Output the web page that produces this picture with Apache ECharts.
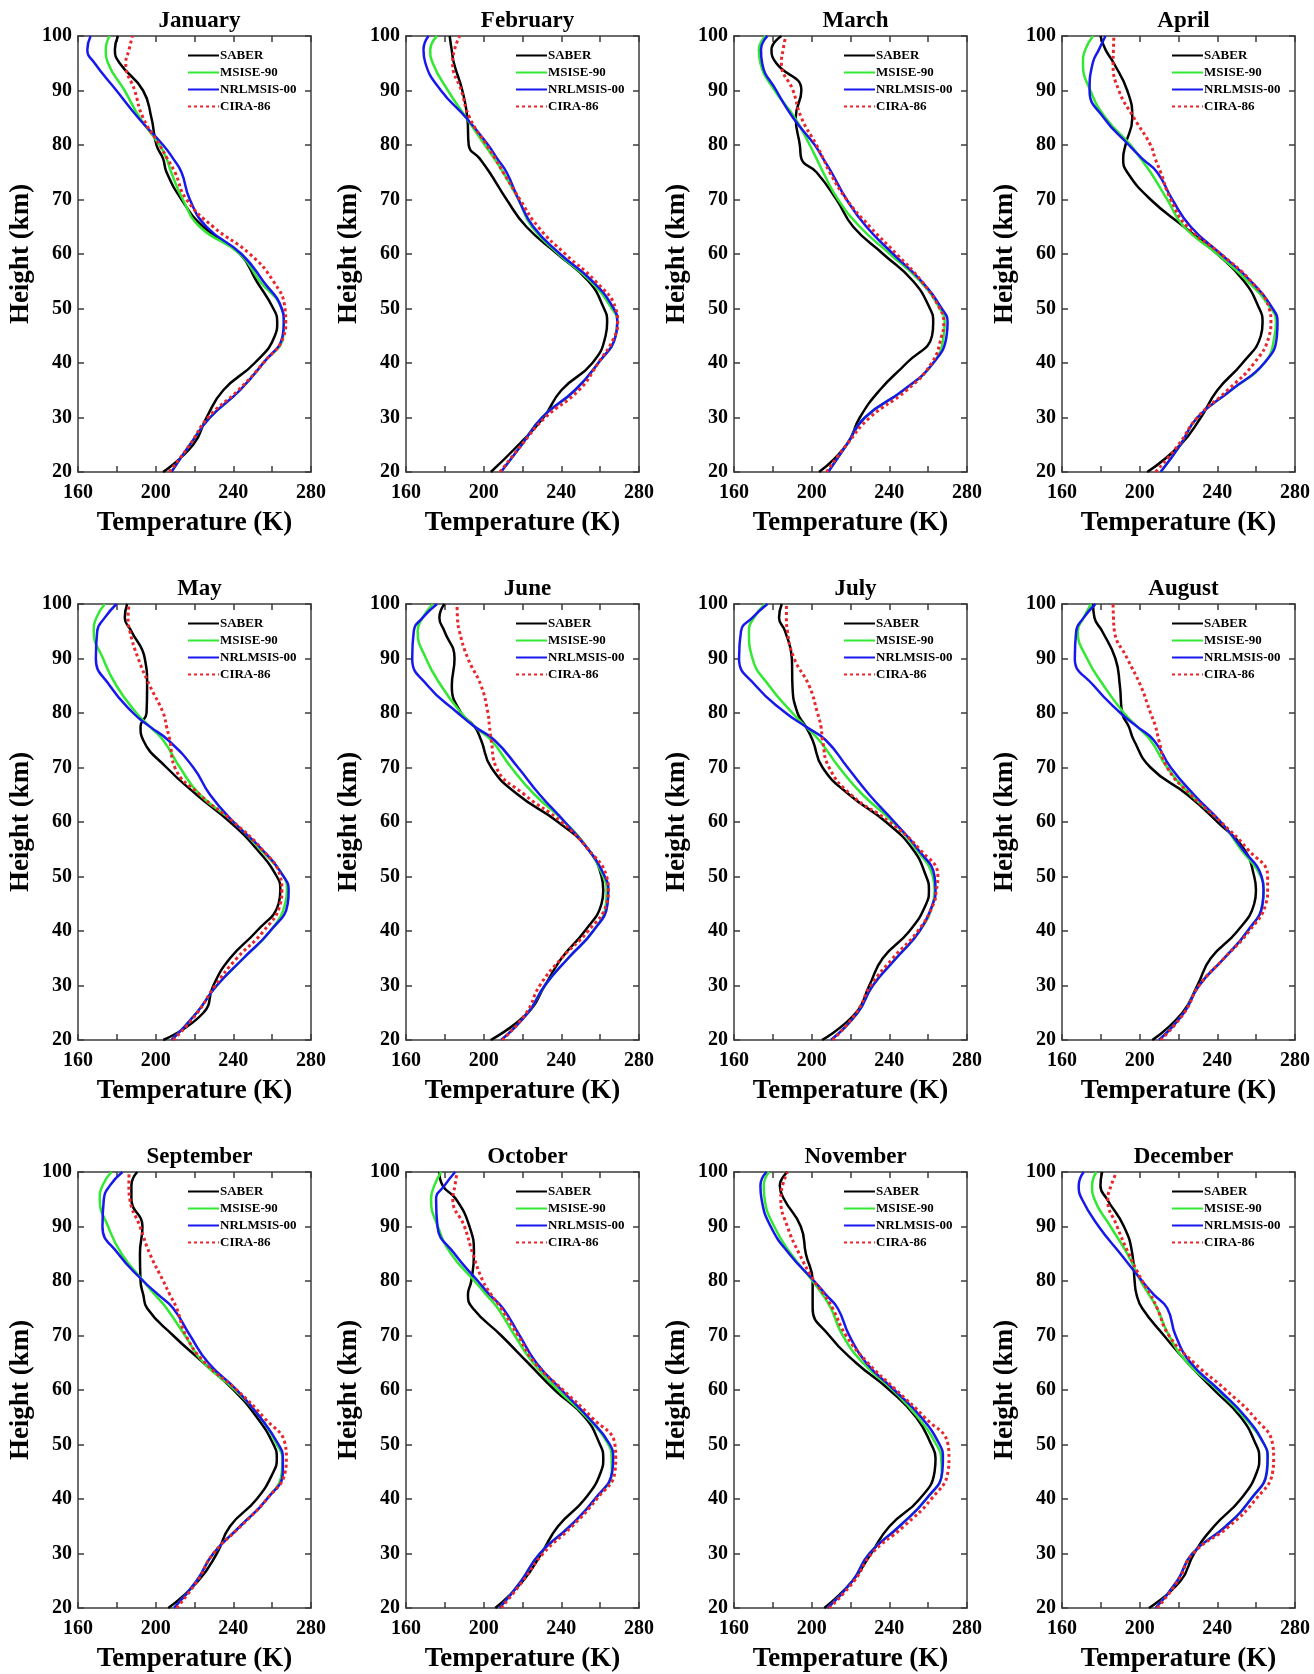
<!DOCTYPE html>
<html>
<head>
<meta charset="utf-8">
<script src="https://cdn.jsdelivr.net/npm/echarts@6/dist/echarts.min.js"></script>
<style>
  html, body { margin: 0; padding: 0; background: #fff; }
  #chart { width: 1314px; height: 1674px; }
</style>
</head>
<body>
<div id="chart"></div>
<script>
// monthly temperature profiles (K) at each height (km)
const MONTHS = ['January', 'February', 'March', 'April', 'May', 'June',
  'July', 'August', 'September', 'October', 'November', 'December'];
const HEIGHTS = [20, 25, 30, 35, 40, 45, 47.5, 50, 55, 60, 65, 70, 75, 77.5, 80, 85, 90, 95, 97.5, 100];

const saberT = [
  [203.8,219.3,226.2,234.8,251,261.4,262.6,260.6,252,243.4,224.5,213.3,205.6,203.8,200.4,197.8,193.5,181.5,179,180.6],
  [203.7,218,230.8,240,256,262.8,263.6,262,254,238,222,211.8,203,198,192.3,191.6,189,184.7,183.5,182.5],
  [203.8,218,224.8,235,248.9,262,262.6,260.9,252.3,236.8,221.4,212.8,202.5,194.7,193.9,191.8,194.7,181.8,179.3,184.4],
  [203.9,221,231.5,240,253,262.4,263.3,261.6,253.8,240,222.8,205.6,193.6,191.5,192.7,196.2,193.6,186.7,182.4,179.8],
  [203.9,224.6,229.7,238.3,252.1,263.3,264.2,262.4,252.1,238.3,221.1,205.6,193.6,192.2,195.3,195.6,194.4,187.5,184.1,185.3],
  [203.6,222.8,231.5,240.1,252.1,260.7,261.6,260.7,253.8,238.3,217.7,203.9,198.7,195.3,188.4,183.6,185,179.8,177.2,179.8],
  [205.3,222.8,229.7,236.6,250.4,259,260.4,259,252.1,238.3,219.4,205.6,200.5,197,192.7,190.1,189.8,186.3,183.2,184.6],
  [206.5,222,229.7,236.6,250.4,259,259.9,259,253.8,240.1,224.6,205.6,197,194.4,191,189.8,187.5,180.7,176.7,176],
  [206.5,222,231.5,238.3,252.1,260.7,262.4,260.7,252.1,240.1,224.6,209,195.6,193.6,192.2,191.9,193.2,187.5,187.5,190.5],
  [206,220.3,229.7,238.3,252.1,260.4,261.6,259.9,252.1,236.6,222.8,209,194.4,191.9,193.6,195,192.7,185.8,178.9,177.2],
  [206.5,221.1,230.6,240.1,255.6,263.3,263.8,261.6,253.8,240.1,222.8,209,200.5,200.5,200.5,197,194.4,185.8,183.6,187.5],
  [204.8,221.1,228,238.3,252.1,260.4,261.6,259.9,252.1,238.3,224.6,212.5,201.3,198.4,197.4,196.2,191.9,183.2,179.8,180.7]
];

const msiseT = [
  [208.1,217.6,228,243.4,255.4,265.7,266,264.9,253.7,243.4,222.7,214,208,205.6,202,191.8,184,175.5,174.3,176.3],
  [208.9,219.6,230,247,259,268,268.8,266,255,238.6,224.8,217.9,210,205.5,200.6,191,181.6,173.8,172.5,176],
  [208.5,218,227.4,247.2,262.6,268,268.5,266,255.8,240.3,224.8,213.6,205.9,202.5,199,191.3,181,173.6,172.8,176.3],
  [210.8,221,229.7,247,264.2,269.5,270.2,267.6,255.6,240,222.8,214.2,205.6,200.5,195.3,182.4,174.6,170.8,172,176],
  [208.2,221.1,231.5,245.2,259,266.7,267.6,265.9,253.8,240.1,222.8,212.5,203.9,197,190.1,179.8,172.9,168.1,169.5,173.8],
  [209,222.8,231.5,243.5,256.4,263,263.3,261.6,253.8,241.8,226.3,214.2,203.9,195.3,188.4,178.1,170.3,166,168.6,173.8],
  [209.9,223.7,231.5,243.5,255.6,262.4,263.3,262.4,253.8,241.8,226.3,214.2,203.9,197,190.1,178.1,169.5,167.7,170.3,176],
  [209.9,222.8,230.6,243.5,255.6,263.3,263.8,262.4,252.1,241.8,226.3,214.2,205.6,198.7,191.9,181.5,172.9,168.1,171.2,175],
  [209.4,221.1,229.7,243.5,257.3,265,265.3,262.4,253.8,240.9,224.6,215.1,205.6,199.6,193.6,182.4,175.5,171.2,172.6,177.2],
  [208.2,219.4,228.9,244.4,257.3,266,265.9,264.2,253,238.3,225.4,216,207.3,201.3,195.3,183.2,176.4,172.9,174.6,178.1],
  [208.2,221.1,229.7,245.2,259,267,266.7,264.2,254.7,241.8,226.3,216,209.9,205.6,200.5,189.3,180.7,175.8,175.3,178.1],
  [208.2,219.4,227.1,244.4,257.3,265.5,265.9,264.2,253.8,240.1,224.6,215.1,209,204.8,200.5,193.6,185,176.7,175.5,177.7]
];

const nrlmsisT = [
  [208.1,217.6,228,243.4,255.4,265.4,266,264.9,255.4,244.2,226.2,217.6,213.3,209,203.8,191,179.8,168.6,164.8,166.5],
  [208.9,219.6,230,247,259,268,268.8,267,256,239.4,225.6,218,211.8,207,202.3,191,178,170,169,171.6],
  [208.5,218,227.4,247.2,262.6,269.5,270,267,256.6,242,228.2,218,210.2,205.9,201.6,190.4,181.8,174.5,173.9,177.2],
  [210.8,221,229.7,247,264.2,270.7,271,268.5,257.3,241.8,226.3,216.8,209,201.3,194.4,181.5,174.2,175.8,179,182.4],
  [208.2,221.1,231.5,245.2,259,268,268.5,265.9,254.7,240.1,228,219.4,206.5,197,188.4,176.4,169.2,169.9,173.8,179.8],
  [209,222.8,231.5,243.5,256.4,263.8,264.2,262.4,253.8,241.8,228.9,217.7,205.6,195.3,186.7,171.2,163.2,164,168.6,176],
  [209.9,223.7,231.5,243.5,255.6,262.4,263.8,263.3,254.7,242.6,229.7,218.5,207.3,197,186.7,171.2,162.6,163.6,169.5,177.2],
  [209.9,222.8,230.6,243.5,255.6,263.3,263.8,262.8,253,241.8,228,216,207.3,198.7,190.1,176.4,166.6,167.3,171.2,177.2],
  [209.4,221.1,229.7,243.5,257.3,265.5,265.5,263.3,253.8,241.8,227.1,217.7,209,201.3,193.6,180.7,172.6,173.3,176.4,182.9],
  [208.2,219.4,228.9,244.4,257.3,266.2,266.7,265,253.8,240.1,227.1,218.5,209.9,203,197,185,176.2,175.5,179.8,185.3],
  [208.2,221.1,229.7,245.2,259,267.3,267.6,265.9,256.4,242.6,228,219.4,213.4,207.3,201.3,188.4,178.9,174.2,173.6,176.7],
  [208.2,219.4,227.1,244.4,257.3,265.5,265.9,264.2,254.7,240.9,226.3,218.5,214.2,207.3,201.3,190.1,178.9,170.3,168.6,171.2]
];

const ciraT = [
  [207,217.6,227,242.5,255.4,266,267,266.6,260.6,248.5,229.6,215.9,209.9,206,202,193.5,189.2,184.6,186.3,188],
  [208.4,219.6,231.7,249,259,267.6,269,268,257.6,242,228,218.7,210,206,201.5,192.8,188.5,184,185,187.6],
  [207.6,218,230,248.9,261.8,267,268,266,256.6,243.7,230,218,209.3,206,202.5,194.7,190.4,184.4,185.3,186.6],
  [208.2,220,229.7,245.2,259,266.7,267.6,266.7,257.3,241.8,224.6,216,210.8,208,205.6,197,189.3,186.3,186.5,186.7],
  [209,221.5,230.6,241.8,255.6,264.2,265,264.2,254.7,240.1,222.8,209.9,207.3,205.6,203.9,197,191,186.7,185.8,186.3],
  [209.5,222,228.9,240.1,253.8,263.3,264.2,263.3,253.8,240.1,221.1,206.5,203.9,203,202.2,198.7,191.9,187.5,186.5,186.3],
  [210.8,223,230.5,241.8,254.7,262.8,264.2,265,255.6,240.1,220.3,209,205.6,204.8,203,198.7,191,187.5,187,187],
  [210.8,223,230.6,243.5,256.4,265,265.9,265.9,255.6,241.8,226.3,214.2,209.9,208.2,205.6,200.5,193.6,187,186.5,186.3],
  [210.8,221.5,229.7,243.8,257.3,266.7,267.3,266.7,255.6,241.8,225.4,215.6,210.8,207.3,203.9,197,191.9,186.7,186.2,186.3],
  [209,220.3,230.6,245.6,258.2,267.6,268,267.6,255.6,240.9,226.3,217.7,209,203.9,199.6,194.4,190.1,184.1,185.2,186.3],
  [209,222,231,247.5,261.6,270.2,270.7,270.2,258.1,243.5,228.9,217.7,210.8,206.5,201.3,193.6,187.5,184.1,185,187.5],
  [209,219.8,227.5,246.1,259.9,268.5,269,268.5,259,244.4,228,215.1,209,205.6,201.3,194.4,188.4,183.6,185.3,188.1]
];

const MODELS = [
  { name: 'SABER', temps: saberT, color: '#000000', type: 'solid', width: 2.5 },
  { name: 'MSISE-90', temps: msiseT, color: '#33e833', type: 'solid', width: 2.5 },
  { name: 'NRLMSIS-00', temps: nrlmsisT, color: '#1818ee', type: 'solid', width: 2.5 },
  { name: 'CIRA-86', temps: ciraT, color: '#e8262b', type: [3, 3], width: 3 }
];

const FONT = '"Liberation Serif", "Times New Roman", serif';
const AXIS_COLOR = '#3c3c3c';
const COL_LEFT = [78, 406, 734, 1062];
const ROW_TOP = [36, 604, 1172];
const PW = 233, PH = 436;

const chart = echarts.init(document.getElementById('chart'));

const grid = [], xAxis = [], yAxis = [], series = [], legend = [], title = [];

MONTHS.forEach(function (month, m) {
  const left = COL_LEFT[m % 4];
  const top = ROW_TOP[Math.floor(m / 4)];
  grid.push({ left: left, top: top, width: PW, height: PH });

  const line = { show: true, onZero: false, lineStyle: { color: AXIS_COLOR, width: 1.5 } };
  const tick = { show: true, inside: true, length: 6, lineStyle: { color: AXIS_COLOR, width: 1.5 } };
  const lab = { color: '#000', fontFamily: FONT, fontWeight: 'bold', fontSize: 20 };
  const nameStyle = { color: '#000', fontFamily: FONT, fontWeight: 'bold', fontSize: 27 };

  // bottom + top temperature axes
  xAxis.push({
    gridIndex: m, type: 'value', min: 160, max: 280, interval: 20, position: 'bottom',
    axisLine: line, axisTick: tick, splitLine: { show: false },
    axisLabel: Object.assign({ margin: 11, formatter: function (v) { return v % 40 === 0 ? v : ''; } }, lab),
    name: 'Temperature (K)', nameLocation: 'middle', nameGap: 38, nameTextStyle: nameStyle
  });
  xAxis.push({
    gridIndex: m, type: 'value', min: 160, max: 280, interval: 20, position: 'top',
    axisLine: line, axisTick: tick, splitLine: { show: false }, axisLabel: { show: false }
  });
  // left + right height axes
  yAxis.push({
    gridIndex: m, type: 'value', min: 20, max: 100, interval: 10, position: 'left',
    axisLine: line, axisTick: tick, splitLine: { show: false },
    axisLabel: Object.assign({ margin: 6 }, lab),
    name: 'Height (km)', nameLocation: 'middle', nameGap: 43, nameTextStyle: nameStyle
  });
  yAxis.push({
    gridIndex: m, type: 'value', min: 20, max: 100, interval: 10, position: 'right',
    axisLine: line, axisTick: tick, splitLine: { show: false }, axisLabel: { show: false }
  });

  MODELS.forEach(function (md) {
    series.push({
      name: md.name, type: 'line', xAxisIndex: 2 * m, yAxisIndex: 2 * m,
      data: HEIGHTS.map(function (h, i) { return [md.temps[m][i], h]; }),
      smooth: 0.5, symbol: 'none', showSymbol: false,
      lineStyle: { color: md.color, width: md.width, type: md.type },
      itemStyle: { color: md.color }
    });
  });

  legend.push({
    left: left + 104, top: top + 8, orient: 'vertical',
    itemWidth: 31, itemHeight: 12, itemGap: 4,
    itemStyle: { opacity: 0 },
    data: MODELS.map(function (md) { return md.name; }),
    textStyle: { color: '#000', fontFamily: FONT, fontWeight: 'bold', fontSize: 13, padding: [0, 0, 0, -4] },
    selectedMode: false
  });

  title.push({
    text: month, left: left + PW / 2, top: top - 31, textAlign: 'center',
    textStyle: { color: '#000', fontFamily: FONT, fontWeight: 'bold', fontSize: 23 }
  });
});

chart.setOption({
  backgroundColor: '#ffffff',
  animation: false,
  title: title,
  legend: legend,
  grid: grid,
  xAxis: xAxis,
  yAxis: yAxis,
  series: series
});
</script>
</body>
</html>
